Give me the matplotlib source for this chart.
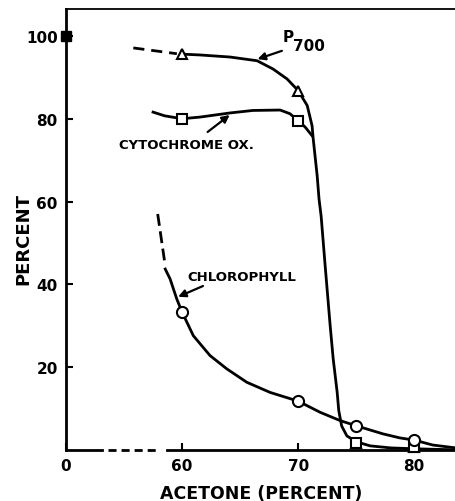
import numpy as np
import matplotlib
matplotlib.use("Agg")
import matplotlib.pyplot as plt

# acetone concentration (percent) vs. remaining activity / pigment (percent)
x_origin = 50  # the broken x axis puts "0" here

p700_dash_x = [55.8, 59.55]
p700_dash_y = [97.1, 95.7]
p700_x = [60, 61.55, 64.14, 66.47, 67.84, 69.05, 70.0, 70.78, 71.2, 71.3,
          71.64, 71.8, 71.98, 72.33, 72.76, 73.02, 73.36, 73.5, 73.75, 74.2,
          75, 76.2, 78, 80, 82, 83.6]
p700_y = [95.6, 95.4, 94.9, 94.0, 92.0, 89.6, 86.8, 83.2, 78.3, 75.1,
          66.2, 60.6, 56.5, 44.4, 30.0, 22.0, 14.0, 9.5, 5.8, 3.4,
          2.0, 1.0, 0.5, 0.3, 0.15, 0.05]
p700_pts_x = [60, 70, 75, 80]
p700_pts_y = [95.6, 86.7, 1.8, 0.8]

cyt_x = [57.5, 58.5, 60, 61.55, 64.14, 66.1, 68.45, 69.3, 70, 70.6, 71.2]
cyt_y = [81.6, 80.7, 80.0, 80.4, 81.4, 82.0, 82.1, 81.2, 79.5, 78.0, 75.9]
cyt_pts_x = [60, 70, 75, 80]
cyt_pts_y = [80.0, 79.5, 1.7, 0.8]

chl_dash_x = [57.9, 58.48]
chl_dash_y = [57.0, 45.8]
chl_x = [58.55, 58.97, 59.54, 60, 60.97, 62.41, 63.85, 65.58, 67.59, 70,
         71.9, 73.62, 75.06, 77.3, 78.8, 80, 81.6, 83.6]
chl_y = [43.7, 41.3, 36.5, 33.3, 27.6, 22.8, 19.6, 16.35, 13.9, 11.8,
         9.1, 7.1, 5.8, 3.9, 2.9, 2.4, 1.2, 0.5]
chl_pts_x = [60, 70, 75, 80]
chl_pts_y = [33.3, 11.8, 5.7, 2.4]

control_y = 100

x_ticks = [60, 70, 80]
y_ticks = [20, 40, 60, 80, 100]

fig = plt.figure(figsize=(4.56, 5.02), dpi=100)
ax = fig.add_axes([66 / 456, 51 / 502, 390 / 456, 441 / 502])
ax.set_xlim(x_origin, 83.6)
ax.set_ylim(0, 106.5)

lw = 2.0
ax.plot(p700_dash_x, p700_dash_y, color="k", lw=lw, dashes=(4, 2.5))
ax.plot(p700_x, p700_y, color="k", lw=lw, solid_joinstyle="round")
ax.plot(cyt_x, cyt_y, color="k", lw=lw, solid_joinstyle="round")
ax.plot(chl_dash_x, chl_dash_y, color="k", lw=lw, dashes=(4.3, 2))
ax.plot(chl_x, chl_y, color="k", lw=lw, solid_joinstyle="round")

mk = dict(ls="none", mfc="white", mec="k", mew=1.5, zorder=4, clip_on=False)
ax.plot(p700_pts_x, p700_pts_y, marker="^", ms=7, **mk)
ax.plot(cyt_pts_x, cyt_pts_y, marker="s", ms=7, **mk)
ax.plot(chl_pts_x, chl_pts_y, marker="o", ms=8, **mk)
ax.plot([x_origin], [control_y], marker="s", ms=7, color="k",
        ls="none", clip_on=False, zorder=5)

# bottom axis: solid, a dashed break, then solid again
ax.plot([x_origin, 53.07], [0, 0], color="k", lw=2, clip_on=False)
ax.plot([53.6, 58.1], [0, 0], color="k", lw=2, dashes=(2.9, 1.8),
        clip_on=False)
ax.plot([58.7, 83.6], [0, 0], color="k", lw=2, clip_on=False)

ax.spines["bottom"].set_visible(False)
ax.spines["right"].set_visible(False)
ax.spines["left"].set_linewidth(2)
ax.spines["top"].set_linewidth(1.3)

tf = dict(fontweight="bold", family="DejaVu Sans")
ax.set_xticks([x_origin] + x_ticks)
ax.set_xticklabels(["0"] + [str(t) for t in x_ticks], fontsize=11, **tf)
ax.set_yticks(y_ticks)
ax.set_yticklabels([str(t) for t in y_ticks], fontsize=11, **tf)
ax.tick_params(direction="in", length=5, width=1.5, pad=6)

ax.set_xlabel("ACETONE (PERCENT)", fontsize=12.5, labelpad=8, **tf)
ax.set_ylabel("PERCENT", fontsize=13, **tf)
ax.yaxis.set_label_coords(-0.086, 0.48)

# curve labels with arrows
arr = dict(arrowstyle="-|>", lw=1.6, color="k", mutation_scale=11,
           shrinkA=0, shrinkB=0)
ax.text(68.7, 99.8, "P", fontsize=11, va="center", ha="left", **tf)
ax.text(69.55, 97.6, "700", fontsize=11, va="center", ha="left", **tf)
ax.annotate("", xy=(66.5, 94.4), xytext=(68.6, 96.4), arrowprops=arr)

ax.text(54.6, 73.7, "CYTOCHROME OX.", fontsize=9.5, va="center",
        ha="left", **tf)
ax.annotate("", xy=(64.1, 80.9), xytext=(62.2, 76.8), arrowprops=arr)

ax.text(60.5, 41.9, "CHLOROPHYLL", fontsize=9.5, va="center", ha="left", **tf)
ax.annotate("", xy=(59.66, 37.0), xytext=(61.8, 39.6), arrowprops=arr)

fig.savefig("out.png", dpi=100)
